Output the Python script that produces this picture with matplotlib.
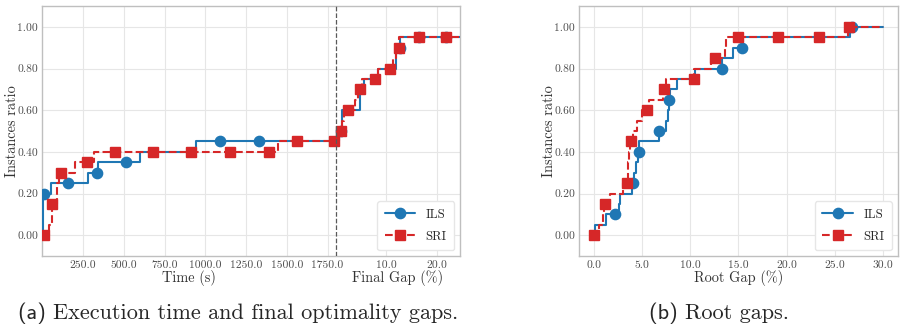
import numpy as np
import matplotlib
matplotlib.use('Agg')
import matplotlib.pyplot as plt
from matplotlib.lines import Line2D
from matplotlib.transforms import blended_transform_factory

plt.style.use('seaborn-v0_8-whitegrid')
plt.rcParams['font.family'] = ['cmr10', 'DejaVu Serif']
plt.rcParams['mathtext.fontset'] = 'cm'
plt.rcParams['axes.formatter.use_mathtext'] = True
plt.rcParams['axes.unicode_minus'] = False

BLUE = '#1f77b4'
RED = '#d62728'

# ---- (a) time (s) up to the time limit, then final gap (%) ----
TIME_LIMIT = 1800
GAP_SCALE = 31  # time units per gap percent on the shared axis

ils_time_x = [0, 6, 54, 282, 339, 598, 945]
ils_time_y = [0.0, 0.20, 0.25, 0.30, 0.35, 0.40, 0.45]
ils_gap_x = [0.65, 1.3, 4.8, 5.6, 8.4, 12.0, 12.8, 25]
ils_gap_y = [0.50, 0.60, 0.70, 0.75, 0.80, 0.90, 0.95, 0.95]
ils_mark_time_x = [9, 160, 335, 511, 1091, 1328]
ils_mark_time_y = [0.20, 0.25, 0.30, 0.35, 0.45, 0.45]
ils_mark_gap_x = [1.0, 12.8, 16.4, 21.9]
ils_mark_gap_y = [0.50, 0.90, 0.95, 0.95]

sri_time_x = [0, 38, 62, 89, 103, 201, 319, 1446]
sri_time_y = [0.0, 0.05, 0.15, 0.25, 0.30, 0.35, 0.40, 0.45]
sri_gap_x = [0.5, 1.2, 1.6, 3.8, 4.4, 5.2, 8.4, 11.3, 12.0, 12.6, 25]
sri_gap_y = [0.50, 0.55, 0.60, 0.65, 0.70, 0.75, 0.80, 0.85, 0.90, 0.95, 0.95]
sri_mark_time_x = [13, 62, 113, 272, 445, 680, 914, 1154, 1389, 1562, 1788]
sri_mark_time_y = [0.0, 0.15, 0.30, 0.35, 0.40, 0.40, 0.40, 0.40, 0.40, 0.45, 0.45]
sri_mark_gap_x = [0.98, 2.5, 4.8, 7.7, 10.8, 12.5, 16.4, 21.9]
sri_mark_gap_y = [0.50, 0.60, 0.70, 0.75, 0.80, 0.90, 0.95, 0.95]

time_ticks = [250, 500, 750, 1000, 1250, 1500, 1750]
gap_ticks = [10, 20]
gap_max = 24.6

# ---- (b) root gaps ----
ils_root_x = [0, 0.18, 1.31, 2.6, 2.7, 3.97, 4.2, 4.42, 4.6, 4.73, 6.8, 7.52,
              7.65, 7.76, 7.9, 8.62, 10.5, 13.3, 14.4, 15.5, 26.6, 30]
ils_root_y = [0, 0.05, 0.10, 0.15, 0.20, 0.25, 0.30, 0.35, 0.40, 0.45, 0.50, 0.55,
              0.60, 0.65, 0.70, 0.75, 0.80, 0.85, 0.90, 0.95, 1.00, 1.00]
ils_root_mark_x = [2.24, 4.07, 4.65, 6.8, 7.8, 13.3, 15.4, 26.8]
ils_root_mark_y = [0.10, 0.25, 0.40, 0.50, 0.65, 0.80, 0.90, 1.00]

sri_root_x = [0, 0.52, 0.97, 1.1, 1.72, 3.04, 3.5, 3.58, 3.62, 3.8, 4.07, 4.48,
              5.0, 5.69, 7.14, 7.48, 10.4, 12.2, 13.6, 13.7, 26.4, 30]
sri_root_y = [0, 0.05, 0.10, 0.15, 0.20, 0.25, 0.30, 0.35, 0.40, 0.45, 0.50, 0.55,
              0.60, 0.65, 0.70, 0.75, 0.80, 0.85, 0.90, 0.95, 1.00, 1.00]
sri_root_mark_x = [0, 1.21, 3.45, 3.86, 5.52, 7.24, 10.34, 12.6, 14.9, 19.1, 23.3, 26.5]
sri_root_mark_y = [0, 0.15, 0.25, 0.45, 0.60, 0.70, 0.75, 0.85, 0.95, 0.95, 0.95, 1.00]

y_ticks = [0.0, 0.2, 0.4, 0.6, 0.8, 1.0]


def gap_to_x(g):
    return TIME_LIMIT + np.asarray(g, dtype=float) * GAP_SCALE


line_kw = dict(ILS=dict(color=BLUE, ls='-', marker='o', zorder=3),
               SRI=dict(color=RED, ls='--', marker='s', zorder=4))
LW = 1.5
MS = 7.4


def draw(ax, name, x, y, mx, my):
    kw = line_kw[name]
    ax.step(x, y, where='post', color=kw['color'], ls=kw['ls'], lw=LW, zorder=kw['zorder'])
    ax.plot(mx, my, ls='none', marker=kw['marker'], ms=MS, color=kw['color'],
            mec=kw['color'], zorder=kw['zorder'])


def style(ax):
    ax.set_ylim(-0.1, 1.1)
    ax.set_yticks(y_ticks)
    ax.set_yticklabels(['%.2f' % v for v in y_ticks])
    ax.tick_params(length=0, pad=3, labelsize=8.3, labelcolor='0.3')
    ax.grid(True, color='0.9', lw=0.8)
    for s in ax.spines.values():
        s.set_color('0.75')
        s.set_linewidth(1.0)
    handles = [Line2D([], [], color=BLUE, ls='-', lw=LW, marker='o', ms=MS),
               Line2D([], [], color=RED, ls='--', lw=LW, marker='s', ms=MS)]
    ax.legend(handles, ['ILS', 'SRI'], loc='lower right', fontsize=9.2, frameon=True,
              framealpha=1, edgecolor='0.9', handlelength=2.4, borderaxespad=0.45,
              borderpad=0.6, labelspacing=0.75, handletextpad=0.8)


fig = plt.figure(figsize=(9.04, 3.32), dpi=100)
ax1 = fig.add_axes([0.0468, 0.2289, 0.4621, 0.7530])
ax2 = fig.add_axes([0.6408, 0.2289, 0.3522, 0.7530])

# left: time part followed by gap part on one axis
ils_x = list(ils_time_x) + list(gap_to_x(ils_gap_x))
ils_y = list(ils_time_y) + list(ils_gap_y)
sri_x = list(sri_time_x) + list(gap_to_x(sri_gap_x))
sri_y = list(sri_time_y) + list(sri_gap_y)
draw(ax1, 'ILS', ils_x, ils_y,
     list(ils_mark_time_x) + list(gap_to_x(ils_mark_gap_x)),
     list(ils_mark_time_y) + list(ils_mark_gap_y))
draw(ax1, 'SRI', sri_x, sri_y,
     list(sri_mark_time_x) + list(gap_to_x(sri_mark_gap_x)),
     list(sri_mark_time_y) + list(sri_mark_gap_y))
ax1.axvline(TIME_LIMIT, color='0.35', ls='--', lw=0.9, zorder=5)
ax1.set_xlim(0, float(gap_to_x(gap_max)))
ax1.set_xticks(list(time_ticks) + list(gap_to_x(gap_ticks)))
ax1.set_xticklabels(['%.1f' % t for t in time_ticks] + ['%.1f' % g for g in gap_ticks])
style(ax1)
tr = blended_transform_factory(ax1.transData, ax1.transAxes)
ax1.text(TIME_LIMIT / 2, -0.088, 'Time (s)', transform=tr, ha='center', va='center',
         fontsize=10.3, color='0.2')
ax1.text((TIME_LIMIT + float(gap_to_x(gap_max))) / 2, -0.088, 'Final Gap (%)', transform=tr,
         ha='center', va='center', fontsize=10.3, color='0.2')

# right: root gaps
draw(ax2, 'ILS', ils_root_x, ils_root_y, ils_root_mark_x, ils_root_mark_y)
draw(ax2, 'SRI', sri_root_x, sri_root_y, sri_root_mark_x, sri_root_mark_y)
ax2.set_xlim(-1.5, 31.5)
ax2.set_xticks(np.arange(0, 31, 5))
ax2.set_xticklabels(['%.1f' % v for v in np.arange(0, 31, 5)])
style(ax2)
ax2.text(0.5, -0.088, 'Root Gap (%)', transform=ax2.transAxes, ha='center', va='center',
         fontsize=10.3, color='0.2')

fig.text(12.5 / 904, 1 - 131 / 332, 'Instances ratio', rotation=90, ha='center', va='center',
         fontsize=10.3, color='0.2')
fig.text(548.7 / 904, 1 - 131 / 332, 'Instances ratio', rotation=90, ha='center', va='center',
         fontsize=10.3, color='0.2')

# sub-captions
for cx, tag, rest in [(238, '(a)', 'Execution time and final optimality gaps.'),
                      (719, '(b)', 'Root gaps.')]:
    t1 = fig.text(0, 1 - 313 / 332, tag + ' ', fontsize=16, family='cmss10', va='center')
    t2 = fig.text(0, 1 - 313 / 332, rest, fontsize=16, va='center')
    fig.canvas.draw()
    r = fig.canvas.get_renderer()
    w1 = t1.get_window_extent(r).width
    w2 = t2.get_window_extent(r).width
    x0 = cx - (w1 + w2) / 2
    t1.set_x(x0 / 904)
    t2.set_x((x0 + w1) / 904)

fig.savefig('out.png', dpi=100)
